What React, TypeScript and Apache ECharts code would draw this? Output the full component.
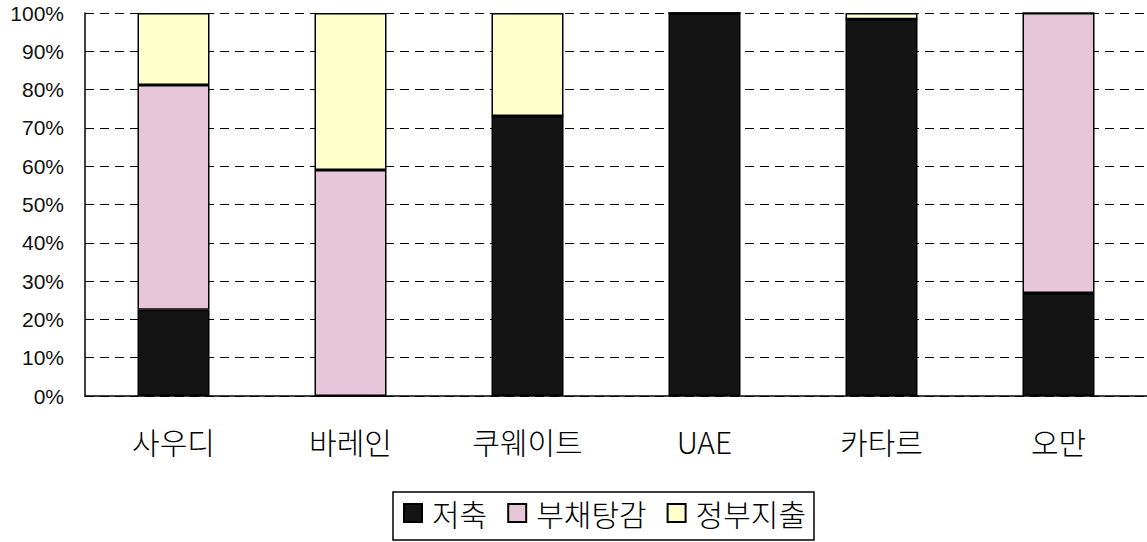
import React, { useEffect, useRef } from "react";
import * as echarts from "echarts";

const categories = ["사우디", "바레인", "쿠웨이트", "UAE", "카타르", "오만"];
const savings = [22.5, 0, 73.1, 100, 98.4, 26.9];
const debtReduction = [58.7, 59.0, 0, 0, 0, 73.1];
const govSpending = [18.8, 41.0, 26.9, 0, 1.6, 0];
const yTicks = [0, 10, 20, 30, 40, 50, 60, 70, 80, 90, 100];

const FONT = "'Noto Sans CJK KR', 'Noto Sans', sans-serif";
const NUM_FONT = "'Liberation Sans', Arial, sans-serif";

export default function App() {
  const ref = useRef<HTMLDivElement>(null);
  useEffect(() => {
    if (!ref.current) return;
    const chart = echarts.init(ref.current, null, { renderer: "svg" });
    const barStyle = (color: string) => ({
      color,
      borderColor: "#000",
      borderWidth: 1.5,
    });
    chart.setOption({
      animation: false,
      backgroundColor: "#fff",
      textStyle: { fontFamily: FONT },
      grid: { left: 85, right: 0, top: 13, bottom: 146, containLabel: false },
      legend: {
        left: 393,
        top: 492,
        padding: [6, 8, 12, 10],
        borderColor: "#000",
        borderWidth: 1.5,
        borderRadius: 0,
        icon: "rect",
        itemWidth: 18,
        itemHeight: 18,
        itemGap: 20,
        textStyle: { fontSize: 30, color: "#000", fontFamily: FONT, fontWeight: 300, padding: [0, 0, 0, 5] },
        data: ["저축", "부채탕감", "정부지출"],
      },
      xAxis: {
        type: "category",
        data: categories,
        axisLine: { lineStyle: { color: "#000", width: 1.5 } },
        axisTick: { inside: true, length: 10, lineStyle: { color: "#000" } },
        axisLabel: { fontSize: 30, color: "#000", margin: 30, fontFamily: FONT, fontWeight: 300 },
      },
      yAxis: {
        type: "value",
        min: 0,
        max: 100,
        interval: 10,
        axisLine: { show: true, lineStyle: { color: "#000", width: 1.5 } },
        axisTick: { show: false },
        axisLabel: {
          fontSize: 21,
          color: "#111",
          margin: 21,
          fontFamily: NUM_FONT,
          formatter: (v: number) => (yTicks.includes(v) ? v + "%" : ""),
        },
        splitLine: { show: true, lineStyle: { color: "#000", type: [9, 6], width: 1 } },
      },
      series: [
        { name: "저축", type: "bar", stack: "t", barWidth: 72, data: savings, itemStyle: barStyle("#141414") },
        { name: "부채탕감", type: "bar", stack: "t", barWidth: 72, data: debtReduction, itemStyle: barStyle("#e6c6d8") },
        { name: "정부지출", type: "bar", stack: "t", barWidth: 72, data: govSpending, itemStyle: barStyle("#ffffcc") },
      ],
    });
    return () => chart.dispose();
  }, []);
  return (
    <div
      ref={ref}
      style={{ position: "fixed", left: 0, top: 0, width: 1147, height: 542 }}
    />
  );
}
